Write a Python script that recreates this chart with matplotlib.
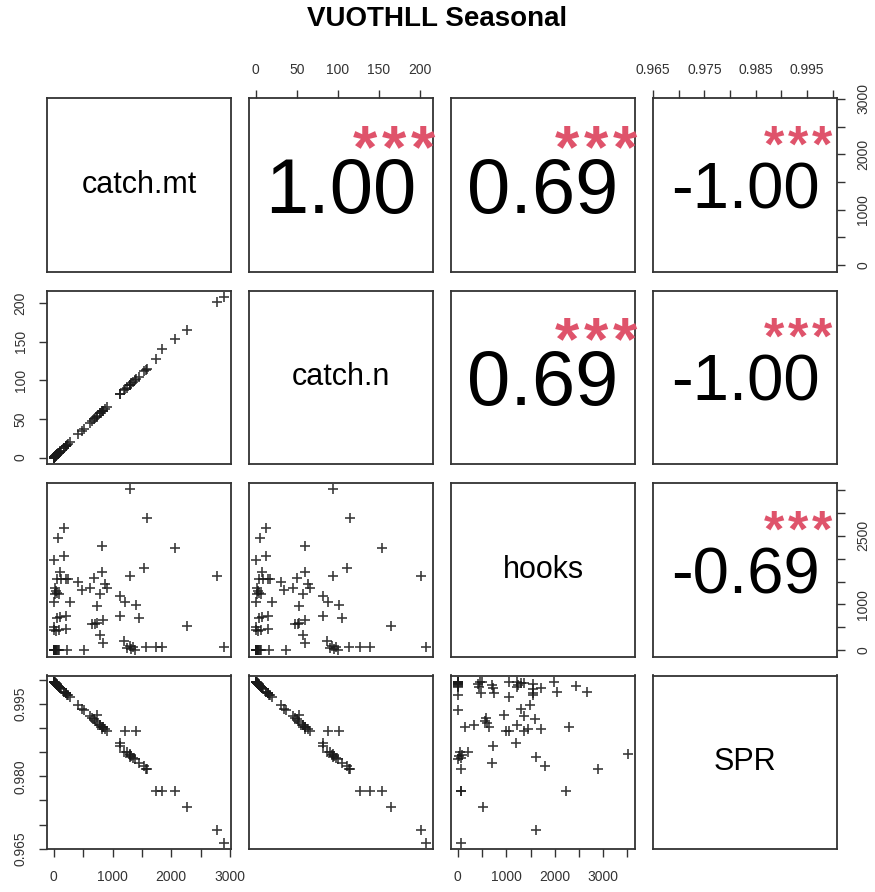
import numpy as np
import matplotlib.pyplot as plt
from matplotlib.transforms import ScaledTranslation

plt.rcParams['font.family'] = ['Liberation Sans', 'DejaVu Sans']

# 数据
var_names = ['catch.mt', 'catch.n', 'hooks', 'SPR']

catch_mt = [0, 2, 4, 7, 10, 14, 19, 25, 33, 42, 55, 68, 85, 222, 508,
            1250, 1290, 1320, 1345, 1380, 1565, 1736, 1850, 2900,
            0, 74, 177, 177, 100, 46, 120, 200, 243, 20, 30, 55, 90, 12, 0, 274,
            200, 110, 60, 2, 8, 40, 90, 200, 416, 474,
            616, 690, 731, 788, 828, 828, 873, 902, 656, 702, 730, 833, 788, 833,
            1130, 1216, 1404, 1130, 1444, 1199, 1301, 1301, 1541, 1587,
            2060, 2272, 2780]
catch_n = [0.0, 0.1, 0.3, 0.5, 0.7, 1.0, 1.4, 1.8, 2.4, 3.0, 4.0, 4.9, 6.2, 16.1, 36.9,
           90.5, 93.6, 96.0, 97.8, 100.2, 113.8, 127.0, 140.0, 208.0,
           0.0, 5.3, 12.8, 12.9, 7.2, 3.3, 8.7, 14.5, 17.6, 1.4, 2.2, 4.0, 6.5, 0.9, 0.0, 19.8,
           14.5, 8.0, 4.3, 0.1, 0.6, 2.9, 6.5, 14.5, 30.2, 34.4,
           44.8, 50.2, 53.2, 57.3, 60.2, 60.4, 63.5, 65.6, 47.7, 51.0, 53.1, 60.6, 57.3, 60.6,
           82.0, 88.3, 102.0, 82.2, 104.9, 87.1, 94.5, 94.6, 111.9, 115.3,
           154.0, 165.0, 201.5]
hooks = [0, 0, 0, 0, 0, 0, 0, 0, 0, 0, 0, 10, 0, 0, 0,
         40, 90, 20, 60, 0, 70, 65, 60, 73,
         1975, 2446, 2667, 2049, 1717, 1547, 1547, 1547, 1547, 1364, 1300, 1250, 1216, 1216, 1046, 1046,
         750, 720, 700, 500, 450, 420, 440, 470, 1488, 1311,
         1364, 1585, 957, 1216, 2284, 1709, 1452, 1364, 580, 560, 600, 648, 330, 147,
         1194, 1046, 995, 736, 700, 206, 3515, 1620, 1805, 2896,
         2233, 516, 1620]
spr = [0.9995, 0.9995, 0.9995, 0.9994, 0.9994, 0.9993, 0.9993, 0.9992, 0.9991, 0.9990,
       0.9989, 0.9987, 0.9985, 0.9969, 0.9936,
       0.9850, 0.9845, 0.9842, 0.9838, 0.9836, 0.9815, 0.9770, 0.9769, 0.9663,
       0.9995, 0.9987, 0.9975, 0.9975, 0.9983, 0.9990, 0.9981, 0.9972, 0.9967, 0.9993,
       0.9992, 0.9989, 0.9985, 0.9994, 0.9995, 0.9963,
       0.9972, 0.9982, 0.9988, 0.9995, 0.9994, 0.9990, 0.9985, 0.9972, 0.9948, 0.9940,
       0.9925, 0.9918, 0.9927, 0.9906, 0.9902, 0.9898, 0.9897, 0.9893, 0.9921, 0.9915,
       0.9911, 0.9901, 0.9906, 0.9902,
       0.9868, 0.9893, 0.9893, 0.9862, 0.9828, 0.9851, 0.9846, 0.9840, 0.9822, 0.9816,
       0.9769, 0.9737, 0.9690]

# 相关系数（图中显示的值）
cor_text = {(0, 1): '1.00', (0, 2): '0.69', (0, 3): '-1.00',
            (1, 2): '0.69', (1, 3): '-1.00', (2, 3): '-0.69'}
cor_size = {'1.00': 56, '0.69': 56, '-1.00': 47, '-0.69': 47}
signif = '***'

# 刻度
mt_ticks = [0, 500, 1000, 1500, 2000, 2500, 3000]
mt_labels = ['0', '', '1000', '', '2000', '', '3000']
n_ticks = [0, 50, 100, 150, 200]
n_labels = ['0', '50', '100', '150', '200']
hooks_ticks = [0, 500, 1000, 1500, 2000, 2500, 3000, 3500]
hooks_labels_x = ['0', '', '1000', '', '2000', '', '3000', '']
hooks_labels_y = ['0', '', '1000', '', '', '2500', '', '']
spr_ticks = [0.965, 0.970, 0.975, 0.980, 0.985, 0.990, 0.995, 1.000]
spr_labels_x = ['0.965', '', '0.975', '', '0.985', '', '0.995', '']
spr_labels_y = ['0.965', '', '', '0.980', '', '', '0.995', '']

data = [catch_mt, catch_n, hooks, spr]
x_axis = [(mt_ticks, mt_labels), (n_ticks, n_labels), (hooks_ticks, hooks_labels_x), (spr_ticks, spr_labels_x)]
y_axis = [(mt_ticks, mt_labels), (n_ticks, n_labels), (hooks_ticks, hooks_labels_y), (spr_ticks, spr_labels_y)]

W, H = 875, 892
fig = plt.figure(figsize=(W / 100, H / 100), dpi=100)

lefts = [47, 249, 451, 653]
tops = [98, 290.5, 483, 675.5]
pw, ph = 184, 173.5
edge = '#333333'


def lims(v):
    lo, hi = min(v), max(v)
    r = hi - lo
    return lo - 0.04 * r, hi + 0.04 * r


for i in range(4):  # 行 -> y 变量
    for j in range(4):  # 列 -> x 变量
        ax = fig.add_axes([lefts[j] / W, 1 - (tops[i] + ph) / H, pw / W, ph / H])
        ax.set_xlim(lims(data[j]))
        ax.set_ylim(lims(data[i]))
        for s in ax.spines.values():
            s.set_color(edge)
            s.set_linewidth(1.3)
        ax.set_xticks([])
        ax.set_yticks([])
        ax.tick_params(length=6, width=1, color=edge, labelsize=10, labelcolor='#333333')

        if i > j:
            ax.plot(data[j], data[i], '+', color='#1a1a1a', ms=6.5, mew=1.2, alpha=0.85)
        elif i == j:
            ax.text(0.5, 0.5, var_names[i], fontsize=22, ha='center', va='center',
                    transform=ax.transAxes)
        else:
            txt = cor_text[(i, j)]
            fs = cor_size[txt]
            off = ScaledTranslation(0, -0.358 * fs / 72, fig.dpi_scale_trans)
            ax.text(0.5, 0.5, txt, fontsize=fs, ha='center', va='baseline',
                    transform=ax.transAxes + off)
            # 显著性星号，逐个放置
            sfs = fs * 0.8
            step = 0.37 * fs / 72
            for k, ch in enumerate(signif):
                off2 = ScaledTranslation((k - 1) * step - 0.02, -0.55 * sfs / 72, fig.dpi_scale_trans)
                ax.text(0.8, 0.8, ch, fontsize=sfs, fontweight='bold', color='#DF536B',
                        ha='center', va='baseline', transform=ax.transAxes + off2, clip_on=False)

        # 外侧坐标轴（与 R pairs 相同的交替位置）
        if i == 0 and j % 2 == 1:
            t, l = x_axis[j]
            ax.set_xticks(t)
            ax.set_xticklabels(l)
            ax.xaxis.tick_top()
            ax.tick_params(axis='x', pad=9)
        if i == 3 and j % 2 == 0:
            t, l = x_axis[j]
            ax.set_xticks(t)
            ax.set_xticklabels(l)
            ax.tick_params(axis='x', pad=9)
        if j == 0 and i % 2 == 1:
            t, l = y_axis[i]
            ax.set_yticks(t)
            ax.set_yticklabels(l, rotation=90, va='center')
            ax.tick_params(axis='y', pad=8)
        if j == 3 and i % 2 == 0:
            t, l = y_axis[i]
            ax.set_yticks(t)
            ax.set_yticklabels(l, rotation=90, va='center')
            ax.yaxis.tick_right()
            ax.tick_params(axis='y', pad=8)

fig.text(0.5, 1 - 19 / H, 'VUOTHLL Seasonal', ha='center', va='center',
         fontsize=20, fontweight='bold')

plt.savefig('out.png', dpi=100)
